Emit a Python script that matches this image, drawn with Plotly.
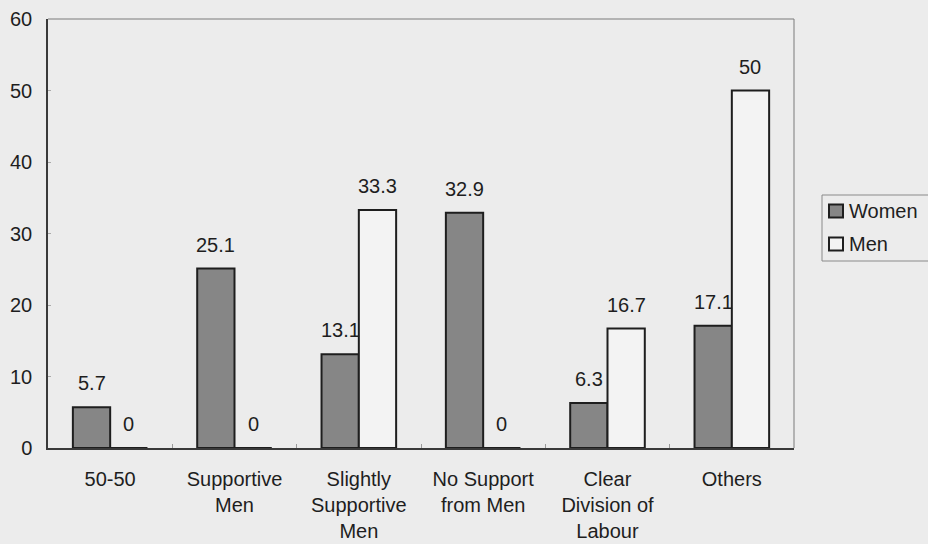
import plotly.graph_objects as go

categories = ["50-50", "Supportive<br>Men", "Slightly<br>Supportive<br>Men",
              "No Support<br>from Men", "Clear<br>Division of<br>Labour", "Others"]
women = [5.7, 25.1, 13.1, 32.9, 6.3, 17.1]
men = [0, 0, 33.3, 0, 16.7, 50]
series_names = ["Women", "Men"]

FONT = "Liberation Sans, Arial, sans-serif"
BG = "#ececec"
INK = "#1e1e1e"
WOMEN_FILL = "#868686"
MEN_FILL = "#f3f3f3"

# plot area geometry (pixels)
L, R, T, B = 48, 134, 19, 96
W, H = 928, 544
plot_w = W - L - R
plot_h = H - T - B
cat_px = plot_w / len(categories)
half_bar = 0.15 * cat_px  # each bar is 30% of a category slot

fig = go.Figure()
fig.add_trace(go.Bar(
    name=series_names[0], x=categories, y=women,
    marker=dict(color=WOMEN_FILL, line=dict(color=INK, width=2)),
))
fig.add_trace(go.Bar(
    name=series_names[1], x=categories, y=men,
    marker=dict(color=MEN_FILL, line=dict(color=INK, width=2)),
))

# value labels above each bar
for vals, shift in ((women, -half_bar), (men, half_bar)):
    for cat, v in zip(categories, vals):
        fig.add_annotation(
            x=cat, y=v, xref="x", yref="y", text=f"{v:g}", showarrow=False,
            xshift=shift, yshift=24, yanchor="middle", xanchor="center",
            font=dict(family=FONT, size=20, color=INK),
        )

# top and right frame of the plot area (lighter than the axes)
fig.add_shape(type="line", xref="paper", yref="paper", x0=0, x1=1, y0=1, y1=1,
              line=dict(color="#7a7a7a", width=1))
fig.add_shape(type="line", xref="paper", yref="paper", x0=1, x1=1, y0=0, y1=1,
              line=dict(color="#7a7a7a", width=1))

# legend box drawn by hand so it may run off the right edge
lx0 = (822 - L) / plot_w
lx1 = (940 - L) / plot_w
ly_top = 1 - (195 - T) / plot_h
ly_bot = 1 - (261 - T) / plot_h
fig.add_shape(type="rect", xref="paper", yref="paper", x0=lx0, x1=lx1,
              y0=ly_bot, y1=ly_top, line=dict(color="#8a8a8a", width=1),
              fillcolor=BG)
rows = [(211, WOMEN_FILL), (244, MEN_FILL)]
for name, (cy, fill) in zip(series_names, rows):
    yc = 1 - (cy - T) / plot_h
    sq = 6.5 / plot_h
    fig.add_shape(type="rect", xref="paper", yref="paper",
                  x0=(829 - L) / plot_w, x1=(843 - L) / plot_w,
                  y0=yc - sq, y1=yc + sq,
                  line=dict(color=INK, width=2), fillcolor=fill)
    fig.add_annotation(x=(847 - L) / plot_w, y=yc, xref="paper", yref="paper",
                       text=name, showarrow=False, xanchor="left",
                       yanchor="middle",
                       font=dict(family=FONT, size=20, color=INK))

fig.update_layout(
    width=W, height=H,
    margin=dict(l=L, r=R, t=T, b=B, autoexpand=False),
    paper_bgcolor=BG, plot_bgcolor=BG,
    barmode="group", bargap=0.4, bargroupgap=0,
    font=dict(family=FONT, size=20, color=INK),
    showlegend=False,
)
fig.update_xaxes(
    showline=True, linecolor="#3a3a3a", linewidth=1.5,
    ticks="inside", ticklen=4, tickcolor="#9a9a9a", tickson="boundaries",
    ticklabelstandoff=12,
    tickfont=dict(family=FONT, size=20, color=INK),
    showgrid=False,
)
fig.update_yaxes(
    range=[0, 60], dtick=10, showline=True, linecolor="#3a3a3a", linewidth=1.5,
    ticks="inside", ticklen=3, tickcolor="#aaaaaa", ticklabelstandoff=10,
    tickfont=dict(family=FONT, size=20, color=INK),
    showgrid=False, zeroline=False,
)

fig.write_html("out.html")
